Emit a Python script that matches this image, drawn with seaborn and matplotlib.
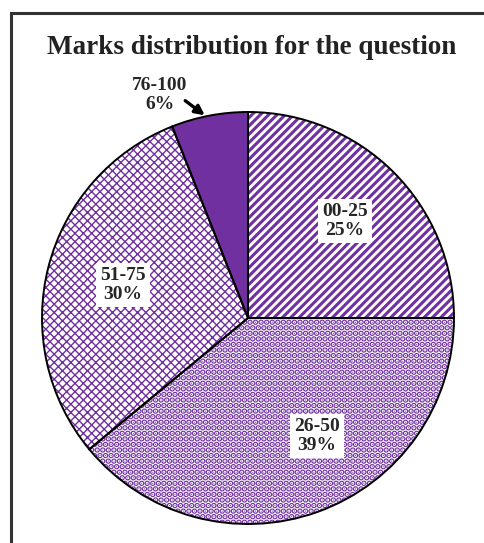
import matplotlib
matplotlib.use("Agg")
import matplotlib.pyplot as plt
from matplotlib.patches import Rectangle
import seaborn as sns

# ---- data ----
categories = ["00-25", "26-50", "51-75", "76-100"]
percentages = [25, 39, 30, 6]
title = "Marks distribution for the question"

sns.set_theme(style="white")
plt.rcParams['font.family'] = ['Liberation Serif', 'DejaVu Serif']
plt.rcParams['hatch.linewidth'] = 2.0

W, H = 484, 543
fig = plt.figure(figsize=(W / 100, H / 100), dpi=100)
ax = fig.add_axes([0, 0, 1, 1])

purple = '#7030A0'
cx, cy, r = 248, H - 318, 206

hatches = ['////', '...', 'xxxx', None]
hlw = [2.2, 3.0, 1.0, 1.0]


def with_hatch_lw(orig_draw, lw):
    def draw(renderer):
        with plt.rc_context({'hatch.linewidth': lw}):
            orig_draw(renderer)
    return draw


wedges, _ = ax.pie(percentages, startangle=90, counterclock=False,
                   center=(cx, cy), radius=r, frame=True,
                   wedgeprops=dict(linewidth=0))
for w, h, lw in zip(wedges, hatches, hlw):
    if h is None:
        w.set_facecolor(purple)
        w.set_edgecolor(purple)
    else:
        w.set_facecolor('white')
        w.set_edgecolor(purple)
        w.set_hatch(h)
        try:
            w.set_hatch_linewidth(lw)
        except Exception:
            pass
        w.draw = with_hatch_lw(w.draw, lw)

# outlines
ax.pie(percentages, startangle=90, counterclock=False,
       center=(cx, cy), radius=r, frame=True,
       wedgeprops=dict(linewidth=1.4, edgecolor='black', facecolor='none'))
ax.set_xlim(0, W)
ax.set_ylim(0, H)
ax.set_aspect('equal')
ax.axis('off')

label_pos = [(345, 221), (317, 436), (123, 285), (160, 95)]
for cat, pct, (x, y) in zip(categories, percentages, label_pos):
    txt = f"{cat}\n{pct}%"
    kw = dict(ha='center', va='center', fontsize=14, fontweight='bold',
              linespacing=1.15)
    if cat != "76-100":
        kw['bbox'] = dict(facecolor='white', edgecolor='none', pad=3)
    ax.text(x, H - y, txt, **kw)

ax.annotate('', xy=(207, H - 117), xytext=(183, H - 99),
            arrowprops=dict(arrowstyle='-|>', color='black', lw=2.4,
                            mutation_scale=14))

ax.text(252, H - 47, title, ha='center', va='center', fontsize=19.5,
        fontweight='bold', color='#222222')

ax.add_patch(Rectangle((10.5, -20), 520, H - 12.5 + 20, fill=False,
                       edgecolor='#333333', linewidth=2.2, clip_on=False))

fig.savefig('out.png', dpi=100)
